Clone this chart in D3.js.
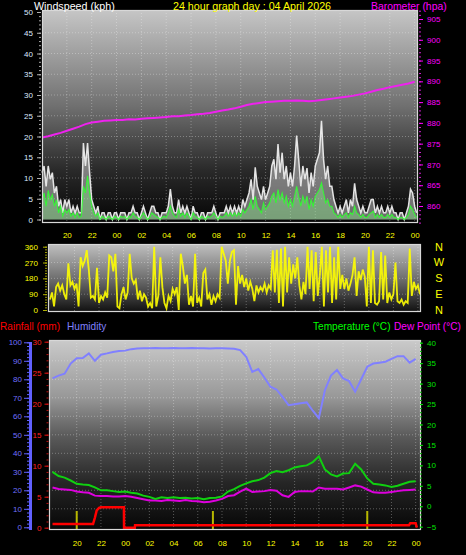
<!DOCTYPE html>
<html><head><meta charset="utf-8">
<script src="https://cdn.jsdelivr.net/npm/d3@7"></script>
<style>
html,body{margin:0;padding:0;background:#000;}
svg{display:block;}
</style></head><body>
<svg id="c" width="466" height="555"></svg>
<script>
// ---------- DATA ----------
const hourTicks = [-4,-2,0,2,4,6,8,10,12,14,16,18,20,22,24];
// wind, 10-minute samples starting 18:00 (hour -6)
const windGust = [11.3,12.9,8,12.9,9.7,11.3,6.4,8,3.2,4.8,
1.6,4.8,3.2,4.8,1.6,3.2,1.6,3.2,1.6,1.6,
18.4,12.9,18.4,11.3,4.8,3.2,1.6,3.2,0,1.6,
1.6,0,1.6,1.6,0,1.6,1.6,0,1.6,1.6,
1.6,0,1.6,1.6,3.2,1.6,1.6,0,1.6,3.2,
1.6,0,1.6,3.2,3.2,1.6,1.6,0,1.6,1.6,
1.6,3.2,7.3,3.2,1.6,1.6,4.8,1.6,3.2,1.6,
3.2,1.6,0,3.2,1.6,1.6,0,1.6,1.6,0,
1.6,1.6,1.6,3.2,1.6,0,1.6,1.6,1.6,3.2,
1.6,3.2,1.6,3.2,1.6,3.2,1.6,4.8,3.2,4.8,
6.4,9.7,4.8,12.6,8,6.4,4.8,8,4.8,6.4,
8,12.9,14.5,9.7,18.2,11.3,16.1,9.7,12.9,8,
11.3,8,12.9,20.2,14.5,8,12.9,9.7,12.4,6.4,
11.3,8,12.9,14.5,16.1,23.8,14.5,9.7,12.9,8,
8,4.8,3.2,1.6,3.2,1.6,3.2,4.8,1.6,4.8,
3.2,8.7,4.8,3.2,1.6,3.2,1.6,1.6,3.2,4.8,
4.8,1.6,3.2,1.6,3.2,1.6,1.6,3.2,1.6,3.2,
1.6,1.6,0,1.6,1.6,0,1.6,3.2,7.3,6.4,
3.2,1.6];
const windAvg = [4.8,6.4,3.2,7,4.8,6,3.2,4.8,1.6,3.2,
0.8,2.4,1.6,2.4,0.8,1.6,0.5,1.6,0.5,0.8,
8,6.4,10.5,6.4,3.2,1.6,0.8,1.6,0,0.8,
0.5,0,0.8,0.5,0,0.8,0.5,0,0.8,0.5,
0.8,0,0.8,0.5,1.6,0.8,0.5,0,0.8,1.6,
0.8,0,0.5,1.6,1.2,0.8,0.5,0,0.5,0.8,
0.5,1.6,3.2,1.6,0.8,0.5,2.4,0.8,1.6,0.5,
1.6,0.8,0,1.6,0.8,0.5,0,0.8,0.5,0,
0.8,0.5,0.8,1.6,0.8,0,0.8,0.5,0.8,1.6,
0.8,1.6,0.8,1.6,0.8,1.6,0.8,2.4,1.6,2.4,
3.2,4.8,2.4,5.6,3.2,2.4,1.6,4,2.4,3.2,
4,5.6,6.4,4,7.2,4.8,6.4,4,5.6,3.2,
4.8,3.2,5.6,8,5.6,3.2,5.6,4,5.6,2.4,
4.8,3.2,5.6,6.4,7.2,8.8,6.4,4,4.8,3.2,
3.2,1.6,1.2,0.5,1.2,0.5,1.2,1.6,0.5,1.6,
1.2,3.2,1.6,1.2,0.5,1.2,0.5,0.5,1.2,1.6,
2,0.5,1.2,0.5,1.2,0.5,0.5,1.2,0.5,1.2,
0.5,0.5,0,0.5,0.5,0,0.5,1.2,3.2,2.4,
1.2,0.5];
const windDir = [60,100,20,130,150,110,140,90,60,265,
140,160,120,150,20,300,250,280,340,230,
70,80,60,240,40,80,60,100,70,310,
300,220,320,20,10,90,130,60,100,320,
180,150,170,60,110,50,90,70,20,40,
10,360,20,80,300,130,40,10,80,50,
120,90,130,0,320,250,150,200,30,80,
20,320,40,70,20,210,230,60,90,30,
80,50,90,70,360,320,280,150,280,330,
340,30,250,150,200,130,180,110,160,120,
50,140,100,130,110,150,100,140,120,340,
100,343,40,350,20,360,100,300,150,260,
180,300,140,60,160,90,360,120,340,50,
330,80,200,360,20,340,100,360,40,300,
60,360,120,200,120,180,110,150,200,300,
80,220,170,230,190,20,360,40,340,40,
30,50,330,60,310,40,100,60,90,270,
50,40,60,30,50,40,350,80,160,120,
140,90];
// 30-minute samples starting 18:00 (hour -6)
const baro = [876.5,876.8,877.2,877.6,878.1,878.6,879.1,879.7,880.1,880.3,880.5,880.6,
880.7,880.7,880.9,880.8,881.0,881.1,881.2,881.3,881.4,881.6,881.6,881.8,881.9,882.1,882.2,882.4,882.7,883.0,883.2,883.5,
883.9,884.3,884.6,884.8,885.0,885.1,885.2,885.3,885.3,885.4,885.3,885.2,885.3,885.5,885.7,885.9,886.1,886.3,886.5,886.8,887.1,887.5,887.9,888.2,888.6,888.9,889.2,889.5,889.9];
const temp = [8.4,7.4,7.0,6.3,5.5,5.3,5.2,4.6,3.9,3.9,3.7,3.5,
3.6,3.3,3.1,2.6,2.3,1.8,2.2,2.0,2.2,2.0,2.1,1.9,2.0,1.7,2.0,2.1,2.4,3.6,4.2,5.0,
5.6,6.1,6.4,7.0,8.1,8.6,8.3,8.8,9.5,9.8,10.0,10.8,12.2,9.0,7.8,7.3,8.0,8.1,10.4,9.0,6.8,5.5,5.3,5.1,4.7,5.0,5.5,6.0,6.1];
const dew = [4.6,4.2,4.1,4.0,3.6,3.4,3.3,2.6,2.5,2.5,2.4,2.4,
2.5,2.3,2.0,1.7,1.4,1.4,1.3,1.5,1.4,1.3,1.5,1.3,1.2,1.0,1.1,1.4,1.8,2.5,2.7,3.6,
4.3,3.5,3.6,3.7,4.0,3.8,2.7,2.3,3.5,3.7,3.7,3.6,4.6,4.3,4.3,4.3,4.1,4.6,5.1,4.8,4.1,3.4,3.3,3.3,3.5,3.7,3.9,4.0,4.1];
const hum = [80.5,82,83,88.5,91.4,91.5,94,90,93.3,94,94.8,95.3,
95.5,96.3,96.6,96.8,96.8,96.9,96.8,96.8,96.9,96.8,96.8,96.9,96.8,96.8,96.7,96.8,96.8,96.7,96.5,95.8,
92.2,84,85.5,81,76,74.5,70.5,66,66.5,67,67.5,63,59,74,82,85,80.5,79,73.3,80,86.8,88.5,89,89.5,91,92.5,92.5,89,91];
const rainHours = [-6,-2.65,-2.5,-2.35,-2.15,-2.0,-0.1,-0.09,0.8,0.82,23.45,23.55,24.0,24.1];
const rainVals  = [0.6,0.6,1.6,2.8,3.2,3.3,3.3,0,0,0.4,0.4,0.7,0.7,0];
const sunHours = [-4,7.25,20];
const windTicks = [0,5,10,15,20,25,30,35,40,45,50];
const baroTicks = [860,865,870,875,880,885,890,895,900,905];
const dirTicks = [0,90,180,270,360];
const compass = ["N","E","S","W","N"];
const humTicks = [0,10,20,30,40,50,60,70,80,90,100];
const rainTicks = [0,5,10,15,20,25,30];
const tempTicks = [-5,0,5,10,15,20,25,30,35,40];

// ---------- SETUP ----------
const FONT = "'Liberation Sans', Arial, sans-serif";
const svg = d3.select("#c");
svg.append("rect").attr("width",466).attr("height",555).attr("fill","#000");
const defs = svg.append("defs");
function grad(id, stops){
  const g = defs.append("linearGradient").attr("id",id).attr("x1",0).attr("y1",0).attr("x2",0).attr("y2",1);
  stops.forEach(([o,c])=>g.append("stop").attr("offset",o).attr("stop-color",c));
}
grad("gTop",[[0,"#c6c6c6"],[0.45,"#707070"],[0.75,"#2a2a2a"],[1,"#040404"]]);
grad("gMid",[[0,"#c0c0c0"],[0.5,"#707070"],[1,"#101010"]]);
grad("gBot",[[0,"#cacaca"],[0.3,"#989898"],[0.5,"#5c5c5c"],[0.75,"#262626"],[1,"#060606"]]);

const fmtH = h => String(((h%24)+24)%24).padStart(2,"0");
const hourAt = (i, step) => -6 + i*step;

function panelBg(x0,y0,x1,y1,gid){
  svg.append("rect").attr("x",x0).attr("y",y0).attr("width",x1-x0).attr("height",y1-y0).attr("fill",`url(#${gid})`);
}
function frame(x0,y0,x1,y1){
  svg.append("rect").attr("x",x0+0.5).attr("y",y0+0.5).attr("width",x1-x0-1).attr("height",y1-y0-1)
    .attr("fill","none").attr("stroke","#d8d8d8").attr("stroke-width",1.2);
}
function grid(xs, ys, hVals, vVals, x0, x1, y0, y1){
  const g = svg.append("g").attr("stroke","#ffffff").attr("stroke-opacity",0.3).attr("stroke-dasharray","1,2");
  g.selectAll(".h").data(hVals).join("line").attr("x1",x0).attr("x2",x1).attr("y1",d=>ys(d)).attr("y2",d=>ys(d));
  g.selectAll(".v").data(vVals).join("line").attr("y1",y0).attr("y2",y1).attr("x1",d=>xs(d)).attr("x2",d=>xs(d));
}
function styleAxis(g, color, fs, tickColor){
  g.attr("font-family",FONT).attr("font-size",fs);
  g.select(".domain").remove();
  g.selectAll("line").attr("stroke",tickColor||color);
  g.selectAll("text").attr("fill",color);
}
function title(x,y,txt,color,fs){
  svg.append("text").attr("x",x).attr("y",y).attr("fill",color).attr("font-family",FONT).attr("font-size",fs).text(txt);
}

// ---------- TOP PANEL: wind speed + barometer ----------
const T = {x0:42,x1:418,y0:10,y1:223};
const xTop = d3.scaleLinear().domain([-6,24.27]).range([T.x0,T.x1]);
const yWind = d3.scaleLinear().domain([0,50]).range([219.5,12]);
const yBaro = d3.scaleLinear().domain([860,905]).range([206,19]);
panelBg(T.x0,T.y0,T.x1,T.y1,"gTop");
grid(xTop,yWind,windTicks.slice(1,-1),hourTicks,T.x0,T.x1,T.y0,T.y1);

const gustArea = d3.area().x((d,i)=>xTop(hourAt(i,1/6))).y0(yWind(0)).y1(d=>yWind(d));
const gustLine = d3.line().x((d,i)=>xTop(hourAt(i,1/6))).y(d=>yWind(d));
svg.append("path").datum(windGust).attr("d",gustArea).attr("fill","#e8e8e8").attr("fill-opacity",0.45);
svg.append("path").datum(windGust).attr("d",gustLine).attr("fill","none").attr("stroke","#f4f4f4").attr("stroke-width",1.5).attr("stroke-opacity",0.9);
svg.append("path").datum(windAvg).attr("d",gustArea).attr("fill","#90ff90").attr("fill-opacity",0.35);
svg.append("path").datum(windAvg).attr("d",gustLine).attr("fill","none").attr("stroke","#30ff30").attr("stroke-width",1.1).attr("stroke-opacity",0.9);
const baroLine = d3.line().x((d,i)=>xTop(hourAt(i,0.5))).y(d=>yBaro(d));
svg.append("path").datum(baro).attr("d",baroLine).attr("fill","none").attr("stroke","#ee22ee").attr("stroke-width",2);
frame(T.x0,T.y0,T.x1,T.y1);

// axes
const aw1 = svg.append("g").attr("transform",`translate(41,0)`).call(d3.axisLeft(yWind).tickValues(d3.range(0,51,1)).tickFormat("").tickSize(2));
styleAxis(aw1,"#a8a8a8",8);
const aw2 = svg.append("g").attr("transform",`translate(41,0)`).call(d3.axisLeft(yWind).tickValues(windTicks).tickSize(4).tickPadding(4));
styleAxis(aw2,"#dce8ff",8,"#b0b0b0");
const ab1 = svg.append("g").attr("transform",`translate(419,0)`).call(d3.axisRight(yBaro).tickValues(d3.range(856,908,1)).tickFormat("").tickSize(2));
styleAxis(ab1,"#d020d0",8);
const ab2 = svg.append("g").attr("transform",`translate(419,0)`).call(d3.axisRight(yBaro).tickValues(baroTicks).tickSize(4).tickPadding(4));
styleAxis(ab2,"#ff00ff",8);
const axT = svg.append("g").attr("transform",`translate(0,223)`).call(d3.axisBottom(xTop).tickValues(hourTicks).tickFormat(fmtH).tickSize(0).tickPadding(9.3));
styleAxis(axT,"#ffff00",8);

title(34,10,"Windspeed (kph)","#ffffff",10.7);
title(173,10,"24 hour graph day : 04 April 2026","#ffff00",10.7);
title(371,10,"Barometer (hpa)","#ff00ff",10.4);

// ---------- MIDDLE PANEL: wind direction ----------
const M = {x0:48,x1:421,y0:244,y1:312};
const xMid = d3.scaleLinear().domain([-6.16,24.25]).range([M.x0,M.x1]);
const yDir = d3.scaleLinear().domain([0,360]).range([310,246.7]);
panelBg(M.x0,M.y0,M.x1,M.y1,"gMid");
grid(xMid,yDir,[90,180,270],hourTicks,M.x0,M.x1,M.y0,M.y1);
const dirLine = d3.line().x((d,i)=>xMid(hourAt(i,1/6))).y(d=>yDir(d));
svg.append("path").datum(windDir).attr("d",dirLine).attr("fill","none").attr("stroke","#ffff00").attr("stroke-width",1.8).attr("stroke-opacity",0.9);
frame(M.x0,M.y0,M.x1,M.y1);
const ad1 = svg.append("g").attr("transform",`translate(47,0)`).call(d3.axisLeft(yDir).tickValues(d3.range(0,361,15)).tickFormat("").tickSize(2));
styleAxis(ad1,"#a0a000",8);
const ad2 = svg.append("g").attr("transform",`translate(47,0)`).call(d3.axisLeft(yDir).tickValues(dirTicks).tickSize(4).tickPadding(5));
styleAxis(ad2,"#ffff00",8,"#b0b000");
svg.append("g").selectAll("text").data(dirTicks).join("text")
  .attr("x",439).attr("y",d=>yDir(d)).attr("dy","0.36em").attr("text-anchor","middle")
  .attr("fill","#ffff00").attr("font-family",FONT).attr("font-size",11)
  .text((d,i)=>compass[i]);

// ---------- BOTTOM PANEL: rain, humidity, temp, dew ----------
const B = {x0:49,x1:421,y0:340,y1:530};
const xBot = d3.scaleLinear().domain([-6.29,24.44]).range([B.x0,B.x1]);
const yHum = d3.scaleLinear().domain([0,100]).range([527.3,342.3]);
const yRain = d3.scaleLinear().domain([0,30]).range([527.7,341.7]);
const yTemp = d3.scaleLinear().domain([-5,40]).range([526.7,342.7]);
panelBg(B.x0,B.y0,B.x1,B.y1,"gBot");
grid(xBot,yHum,humTicks.slice(1,-1),hourTicks,B.x0,B.x1,B.y0,B.y1);

svg.append("g").selectAll("line").data(sunHours).join("line")
  .attr("x1",d=>xBot(d)).attr("x2",d=>xBot(d)).attr("y1",511).attr("y2",B.y1)
  .attr("stroke","#b8b800").attr("stroke-width",2);

const lineBot = (ys) => d3.line().x((d,i)=>xBot(hourAt(i,0.5))).y(d=>ys(d));
svg.append("path").datum(hum).attr("d",lineBot(yHum)).attr("fill","none").attr("stroke","#8080ff").attr("stroke-width",2);
svg.append("path").datum(dew).attr("d",lineBot(yTemp)).attr("fill","none").attr("stroke","#dd00dd").attr("stroke-width",2);
svg.append("path").datum(temp).attr("d",lineBot(yTemp)).attr("fill","none").attr("stroke","#10d010").attr("stroke-width",2);
const rainLine = d3.line().x((d,i)=>xBot(rainHours[i])).y(d=>yRain(d));
svg.append("path").datum(rainVals).attr("d",rainLine).attr("fill","none").attr("stroke","#ff0000").attr("stroke-width",2.5);
frame(B.x0,B.y0,B.x1,B.y1);

// left axes
svg.append("line").attr("x1",30.5).attr("x2",30.5).attr("y1",342).attr("y2",530).attr("stroke","#6060ff").attr("stroke-width",3);
const ah1 = svg.append("g").attr("transform",`translate(29,0)`).call(d3.axisLeft(yHum).tickValues(d3.range(0,101,2)).tickFormat("").tickSize(2));
styleAxis(ah1,"#6060ff",8);
const ah2 = svg.append("g").attr("transform",`translate(29,0)`).call(d3.axisLeft(yHum).tickValues(humTicks).tickSize(5).tickPadding(2));
styleAxis(ah2,"#7070ff",8,"#6060ff");
const ar1 = svg.append("g").attr("transform",`translate(48.5,0)`).call(d3.axisLeft(yRain).tickValues(d3.range(0,31,1)).tickFormat("").tickSize(2));
styleAxis(ar1,"#c01010",8);
const ar2 = svg.append("g").attr("transform",`translate(48.5,0)`).call(d3.axisLeft(yRain).tickValues(rainTicks).tickSize(4).tickPadding(3));
styleAxis(ar2,"#ff2020",8,"#e01010");
// right axis
const at1 = svg.append("g").attr("transform",`translate(420,0)`).call(d3.axisRight(yTemp).tickValues(d3.range(-5,41,1)).tickFormat("").tickSize(2));
styleAxis(at1,"#00b000",8);
const at2 = svg.append("g").attr("transform",`translate(420,0)`).call(d3.axisRight(yTemp).tickValues(tempTicks).tickSize(3).tickPadding(4));
styleAxis(at2,"#00e000",8);
const axB = svg.append("g").attr("transform",`translate(0,530)`).call(d3.axisBottom(xBot).tickValues(hourTicks).tickFormat(fmtH).tickSize(0).tickPadding(10.8));
styleAxis(axB,"#ffff00",8);

title(0,330,"Rainfall (mm)","#ff0000",10.1);
title(67,330,"Humidity","#8080ff",10.1);
title(313,330,"Temperature (°C)","#00ff00",10.1);
title(394,330,"Dew Point (°C)","#ff00ff",10.1);
</script>
</body></html>
